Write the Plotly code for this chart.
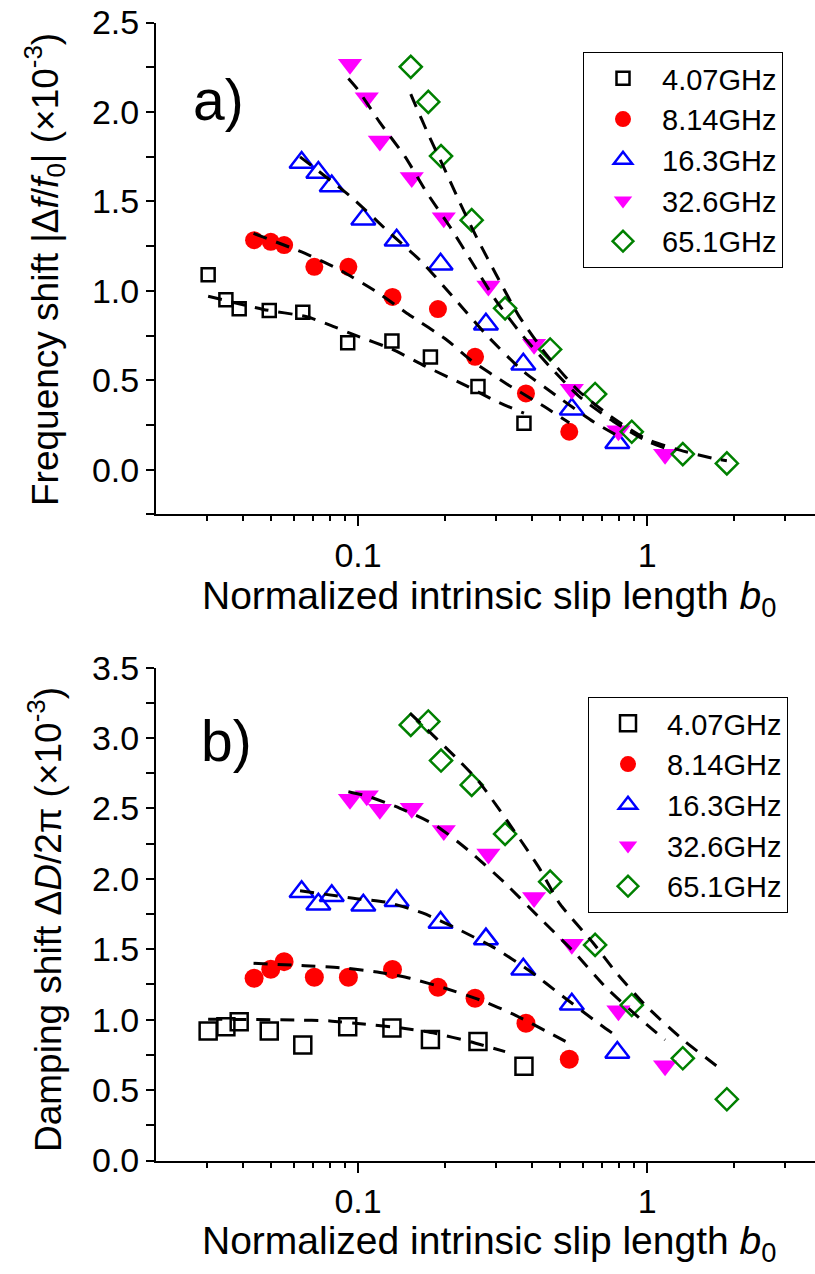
import numpy as np
import plotly.graph_objects as go

# ---------------- data ----------------
labels = ["4.07GHz", "8.14GHz", "16.3GHz", "32.6GHz", "65.1GHz"]

# normalized intrinsic slip length b0 for each frequency
x_407 = [0.0303, 0.0349, 0.0388, 0.0493, 0.0644, 0.0921, 0.131, 0.178, 0.260, 0.375]
x_814 = [0.0437, 0.0499, 0.0555, 0.0706, 0.0926, 0.1316, 0.189, 0.254, 0.381, 0.538]
x_163 = [0.0638, 0.0729, 0.0811, 0.1043, 0.136, 0.193, 0.277, 0.373, 0.549, 0.789]
x_326 = [0.0938, 0.1072, 0.119, 0.1534, 0.198, 0.2825, 0.4065, 0.549, 0.796, 1.154]
x_651 = [0.1522, 0.175, 0.1937, 0.2473, 0.3227, 0.462, 0.661, 0.885, 1.329, 1.888]

# panel a: frequency shift |df/f0| (x1e-3)
a_407 = [1.09, 0.95, 0.90, 0.89, 0.88, 0.71, 0.72, 0.63, 0.465, 0.26]
a_814 = [1.283, 1.274, 1.256, 1.134, 1.134, 0.966, 0.898, 0.631, 0.426, 0.212]
a_163 = [1.717, 1.661, 1.586, 1.40, 1.283, 1.148, 0.813, 0.589, 0.338, 0.151]
a_326 = [2.266, 2.08, 1.838, 1.633, 1.409, 1.027, 0.701, 0.449, 0.217, 0.086]
a_651 = [2.252, 2.056, 1.753, 1.395, 0.902, 0.672, 0.423, 0.212, 0.087, 0.035]

# panel b: damping shift dD/2pi (x1e-3)
b_407 = [0.92, 0.95, 0.985, 0.92, 0.82, 0.95, 0.94, 0.86, 0.845, 0.67]
b_814 = [1.294, 1.358, 1.412, 1.301, 1.301, 1.357, 1.230, 1.152, 0.974, 0.719]
b_163 = [1.908, 1.82, 1.88, 1.813, 1.844, 1.69, 1.572, 1.358, 1.11, 0.767]
b_326 = [2.566, 2.59, 2.495, 2.502, 2.344, 2.176, 1.868, 1.536, 1.063, 0.673]
b_651 = [3.093, 3.117, 2.840, 2.667, 2.319, 1.980, 1.531, 1.104, 0.726, 0.435]

# fit curves, panel a
fa_407_x = [0.0303, 0.047, 0.0665, 0.080, 0.0976, 0.131, 0.1706, 0.2383, 0.300, 0.375]
fa_407_y = [0.970, 0.896, 0.855, 0.808, 0.752, 0.674, 0.579, 0.467, 0.383, 0.316]
fa_814_x = [0.0435, 0.0656, 0.0866, 0.116, 0.151, 0.2028, 0.246, 0.328, 0.4436, 0.538]
fa_814_y = [1.321, 1.209, 1.116, 0.994, 0.864, 0.725, 0.612, 0.478, 0.35, 0.262]
fa_163_x = [0.063, 0.0946, 0.1257, 0.166, 0.2166, 0.2786, 0.3685, 0.492, 0.652, 0.79]
fa_163_y = [1.749, 1.525, 1.339, 1.162, 0.953, 0.752, 0.557, 0.407, 0.268, 0.19]
fa_326_x = [0.0926, 0.0996, 0.1191, 0.1456, 0.1729, 0.208, 0.2473, 0.2977, 0.3635, 0.4615, 0.5845, 0.7645, 0.998, 1.154]
fa_326_y = [2.187, 2.127, 1.94, 1.749, 1.549, 1.358, 1.162, 0.954, 0.767, 0.575, 0.407, 0.27, 0.16, 0.12]
fa_651_x = [0.1522, 0.1553, 0.176, 0.2, 0.2284, 0.2607, 0.3, 0.36, 0.45, 0.58, 0.76, 1.0, 1.3, 1.695, 1.888]
fa_651_y = [2.10, 2.066, 1.866, 1.675, 1.47, 1.28, 1.093, 0.86, 0.64, 0.44, 0.29, 0.17, 0.109, 0.063, 0.05]

# fit curves, panel b
fb_407_x = [0.0303, 0.0605, 0.08, 0.1043, 0.1434, 0.1848, 0.244, 0.3227]
fb_407_y = [1.003, 0.998, 0.991, 0.969, 0.939, 0.903, 0.844, 0.773]
fb_814_x = [0.0435, 0.0656, 0.0866, 0.1145, 0.1514, 0.2, 0.2643, 0.3494, 0.462, 0.538]
fb_814_y = [1.40, 1.383, 1.369, 1.341, 1.294, 1.223, 1.14, 1.033, 0.903, 0.832]
fb_163_x = [0.063, 0.0963, 0.1273, 0.168, 0.222, 0.2979, 0.3884, 0.513, 0.679, 0.789]
fb_163_y = [1.916, 1.862, 1.831, 1.756, 1.642, 1.507, 1.353, 1.163, 0.974, 0.879]
fb_326_x = [0.0926, 0.1072, 0.1397, 0.1846, 0.244, 0.3227, 0.4264, 0.5635, 0.7253, 0.971, 1.154]
fb_326_y = [2.619, 2.589, 2.501, 2.383, 2.193, 1.969, 1.72, 1.472, 1.223, 0.986, 0.856]
fb_651_x = [0.1514, 0.2255, 0.2643, 0.4207, 0.5, 0.652, 0.785, 0.998, 1.333, 1.765]
fb_651_y = [3.176, 2.832, 2.68, 2.087, 1.82, 1.543, 1.33, 1.092, 0.856, 0.662]

x_major = [0.1, 1]
x_major_text = ["0.1", "1"]
x_minor = [0.03, 0.04, 0.05, 0.06, 0.07, 0.08, 0.09, 0.2, 0.3, 0.4, 0.5, 0.6, 0.7, 0.8, 0.9, 2, 3]
ya_ticks = [0.0, 0.5, 1.0, 1.5, 2.0, 2.5]
ya_minor = [-0.25, 0.25, 0.75, 1.25, 1.75, 2.25]
yb_ticks = [0.0, 0.5, 1.0, 1.5, 2.0, 2.5, 3.0, 3.5]
yb_minor = [0.25, 0.75, 1.25, 1.75, 2.25, 2.75, 3.25]

# ---------------- figure ----------------
W, H = 815, 1274
FONT = "Liberation Sans, Arial, sans-serif"

styles = [
    dict(symbol="square-open", color="black", lw=2.5, sa=13, sb=17),
    dict(symbol="circle", color="#ff0000", lw=0, sa=18, sb=19),
    dict(symbol="triangle-up-open", color="#0000ff", lw=2.5, sa=21, sb=21),
    dict(symbol="triangle-down", color="#ff00ff", lw=0, sa=21, sb=21),
    dict(symbol="diamond-open", color="#008000", lw=2.5, sa=17, sb=17),
]
xs = [x_407, x_814, x_163, x_326, x_651]
ya = [a_407, a_814, a_163, a_326, a_651]
yb = [b_407, b_814, b_163, b_326, b_651]
fits_a = [(fa_407_x, fa_407_y), (fa_814_x, fa_814_y), (fa_163_x, fa_163_y),
          (fa_326_x, fa_326_y), (fa_651_x, fa_651_y)]
fits_b = [(fb_407_x, fb_407_y), (fb_814_x, fb_814_y), (fb_163_x, fb_163_y),
          (fb_326_x, fb_326_y), (fb_651_x, fb_651_y)]

fig = go.Figure()
for lab, st, x, y in zip(labels, styles, xs, ya):
    fig.add_trace(go.Scatter(
        x=x, y=y, mode="markers", name=lab, xaxis="x", yaxis="y", legend="legend",
        marker=dict(symbol=st["symbol"], color=st["color"], size=st["sa"],
                    line=dict(width=st["lw"], color=st["color"]))))
for lab, st, x, y in zip(labels, styles, xs, yb):
    fig.add_trace(go.Scatter(
        x=x, y=y, mode="markers", name=lab, xaxis="x2", yaxis="y2", legend="legend2",
        marker=dict(symbol=st["symbol"], color=st["color"], size=st["sb"],
                    line=dict(width=st["lw"], color=st["color"]))))
for fx, fy in fits_a:
    fig.add_trace(go.Scatter(x=fx, y=fy, mode="lines", xaxis="x", yaxis="y", showlegend=False,
                             line=dict(color="black", width=3, dash="14px,10px", shape="spline", smoothing=0.6),
                             hoverinfo="skip"))
for fx, fy in fits_b:
    fig.add_trace(go.Scatter(x=fx, y=fy, mode="lines", xaxis="x2", yaxis="y2", showlegend=False,
                             line=dict(color="black", width=3, dash="14px,10px", shape="spline", smoothing=0.6),
                             hoverinfo="skip"))

tickfont = dict(family=FONT, size=34, color="black")
xcommon = dict(
    type="log", range=[np.log10(0.02), np.log10(3.81)], domain=[156 / W, 1.0],
    showline=True, linecolor="black", linewidth=2, mirror=False,
    ticks="outside", ticklen=10, tickwidth=2, tickcolor="black",
    tickmode="array", tickvals=x_major, ticktext=x_major_text, tickfont=tickfont,
    minor=dict(tickmode="array", tickvals=x_minor, ticks="outside", ticklen=5,
               tickwidth=2, tickcolor="black", showgrid=False),
    showgrid=False, zeroline=False, automargin=False,
)


def ycommon(rng, dom, ticks, minor):
    return dict(
        range=rng, domain=dom, showline=True, linecolor="black", linewidth=2, mirror=False,
        ticks="outside", ticklen=8, tickwidth=2, tickcolor="black",
        tickmode="array", tickvals=ticks, ticktext=["%.1f" % t for t in ticks], tickfont=tickfont,
        minor=dict(tickmode="array", tickvals=minor, ticks="outside", ticklen=8,
                   tickwidth=2, tickcolor="black", showgrid=False),
        showgrid=False, zeroline=False, automargin=False,
    )


legend_common = dict(
    xanchor="left", yanchor="top", bordercolor="black", borderwidth=1, bgcolor="white",
    font=dict(family=FONT, size=29, color="black"), itemwidth=68, tracegroupgap=0,
)

fig.update_layout(
    width=W, height=H, autosize=False, template="none",
    margin=dict(l=0, r=0, t=0, b=0, pad=0),
    paper_bgcolor="white", plot_bgcolor="white",
    font=dict(family=FONT, color="black"),
    xaxis=dict(xcommon, anchor="y"),
    xaxis2=dict(xcommon, anchor="y2"),
    yaxis=ycommon([-0.25, 2.5], [1 - 514.4 / H, 1 - 22.5 / H], ya_ticks, ya_minor) | dict(anchor="x"),
    yaxis2=ycommon([0, 3.5], [1 - 1160.5 / H, 1 - 667.6 / H], yb_ticks, yb_minor) | dict(anchor="x2"),
    legend=dict(legend_common, x=583 / W, y=1 - 52 / H),
    legend2=dict(legend_common, x=588 / W, y=1 - 697 / H),
    showlegend=True,
)

ytitle_font = dict(family=FONT, size=37, color="black")
xtitle_font = dict(family=FONT, size=39, color="black")
annotations = [
    dict(text="Frequency shift |Δ<i>f</i>/<i>f</i><sub>0</sub>| (×10<sup>-3</sup>)",
         x=45 / W, y=1 - 270 / H, textangle=-90, font=ytitle_font),
    dict(text="Damping shift Δ<i>D</i>/2π (×10<sup>-3</sup>)",
         x=45 / W, y=1 - 920 / H, textangle=-90, font=ytitle_font),
    dict(text="Normalized intrinsic slip length <i>b</i><sub>0</sub>",
         x=489 / W, y=1 - 598 / H, font=xtitle_font),
    dict(text="Normalized intrinsic slip length <i>b</i><sub>0</sub>",
         x=489 / W, y=1 - 1243 / H, font=xtitle_font),
    dict(text="a)", x=218 / W, y=1 - 100 / H, font=dict(family=FONT, size=57, color="black")),
    dict(text="b)", x=226 / W, y=1 - 741 / H, font=dict(family=FONT, size=57, color="black")),
]
for a in annotations:
    fig.add_annotation(xref="paper", yref="paper", xanchor="center", yanchor="middle",
                       showarrow=False, **a)

fig.write_html("out.html")
